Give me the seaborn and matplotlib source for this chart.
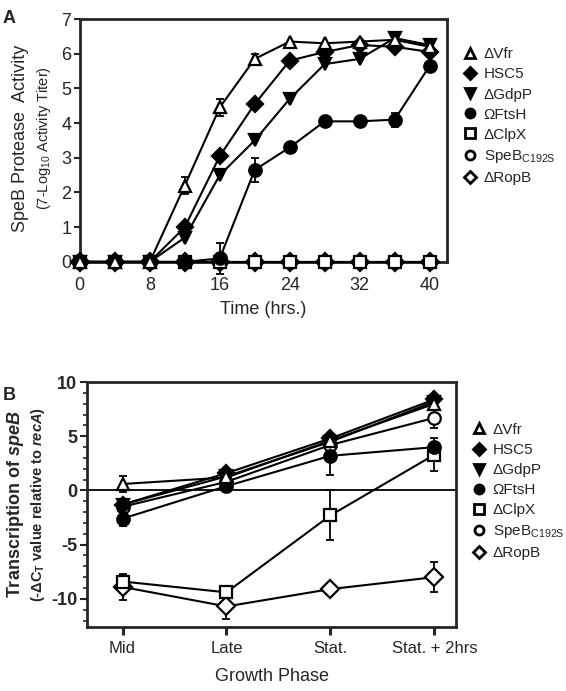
import numpy as np
import pandas as pd
import matplotlib
matplotlib.use("Agg")
import matplotlib.pyplot as plt
import seaborn as sns
from matplotlib.lines import Line2D
from matplotlib.ticker import MultipleLocator

sns.set_style("ticks")
plt.rcParams['font.family'] = ['Liberation Sans', 'DejaVu Sans']
plt.rcParams['mathtext.fontset'] = 'custom'
plt.rcParams['mathtext.rm'] = 'Liberation Sans'
plt.rcParams['mathtext.it'] = 'Liberation Sans:italic:bold'
plt.rcParams['axes.unicode_minus'] = False

strains = ['ΔVfr', 'HSC5', 'ΔGdpP', 'ΩFtsH', 'ΔClpX', 'SpeB$_{\\mathregular{C192S}}$', 'ΔRopB']
markers = ['^', 'D', 'v', 'o', 's', 'o', 'D']
filled = [False, True, True, True, False, False, False]
msizes = [9, 8, 9, 9, 9, 9, 9]

# panel A: SpeB protease activity over time
hours = [0, 4, 8, 12, 16, 20, 24, 28, 32, 36, 40]
act_vfr = [0, 0, 0, 2.2, 4.45, 5.85, 6.35, 6.3, 6.35, 6.4, 6.2]
act_hsc5 = [0, 0, 0, 1.0, 3.05, 4.55, 5.8, 6.05, 6.25, 6.2, 6.05]
act_gdpp = [0, 0, 0, 0.7, 2.5, 3.5, 4.7, 5.7, 5.85, 6.45, 6.25]
act_ftsh = [0, 0, 0, 0, 0.1, 2.65, 3.3, 4.05, 4.05, 4.1, 5.65]
act_clpx = [0] * 11
act_c192s = [0] * 11
act_ropb = [0] * 11
err_vfr = [0, 0, 0, 0.25, 0.25, 0.15, 0, 0, 0, 0, 0]
err_ftsh = [0, 0, 0, 0, 0.45, 0.35, 0, 0, 0, 0.2, 0]

# panel B: speB transcription by growth phase
phases = ['Mid', 'Late', 'Stat.', 'Stat. + 2hrs']
tx_vfr = [0.6, 1.2, 4.6, 8.0]
tx_hsc5 = [-1.3, 1.6, 4.8, 8.4]
tx_gdpp = [-1.3, 1.3, 4.5, 8.2]
tx_ftsh = [-2.6, 0.4, 3.2, 4.0]
tx_clpx = [-8.4, -9.4, -2.3, 3.3]
tx_c192s = [-1.5, 0.8, 4.2, 6.7]
tx_ropb = [-8.9, -10.7, -9.1, -8.0]
txerr_vfr = [0.7, 0.3, 0.5, 0.4]
txerr_ftsh = [0.7, 0.3, 1.8, 0.3]
txerr_clpx = [0.5, 0.5, 2.3, 1.5]
txerr_c192s = [0.4, 0.3, 0.4, 0.9]
txerr_ropb = [1.2, 1.2, 0.5, 1.4]
txerr_hsc5 = [0.4, 0.3, 0.4, 0.5]

act = [act_vfr, act_hsc5, act_gdpp, act_ftsh, act_clpx, act_c192s, act_ropb]
act_err = [err_vfr, [0] * 11, [0] * 11, err_ftsh, [0] * 11, [0] * 11, [0] * 11]
tx = [tx_vfr, tx_hsc5, tx_gdpp, tx_ftsh, tx_clpx, tx_c192s, tx_ropb]
tx_err = [txerr_vfr, txerr_hsc5, [0.3] * 4, txerr_ftsh, txerr_clpx, txerr_c192s, txerr_ropb]

fig = plt.figure(figsize=(5.66, 6.91), dpi=100)
axA = fig.add_axes([0.141, 0.621, 0.649, 0.3515])
axB = fig.add_axes([0.154, 0.0926, 0.652, 0.3544])

lw = 1.5

def draw(ax, x, ys, errs):
    for i in range(len(strains))[::-1]:
        df = pd.DataFrame({'x': x, 'y': ys[i]})
        ax.errorbar(x, ys[i], yerr=errs[i], fmt='none', ecolor='black',
                    elinewidth=1.3, capsize=3, capthick=1.3, zorder=2, clip_on=False)
        sns.lineplot(data=df, x='x', y='y', ax=ax, color='black', lw=lw,
                     marker=markers[i], markersize=msizes[i],
                     markerfacecolor='black' if filled[i] else 'white',
                     markeredgecolor='black', markeredgewidth=1.6,
                     clip_on=False, zorder=3, legend=False)

def legend(ax, y0):
    handles = [Line2D([], [], ls='none', marker=m, markersize=6.5,
                      markerfacecolor='black' if f else 'white',
                      markeredgecolor='black', markeredgewidth=2)
               for m, f in zip(markers, filled)]
    ax.legend(handles, strains, loc='upper left', bbox_to_anchor=(1.0, y0),
              frameon=False, fontsize=11, handletextpad=0.3, labelspacing=0.4,
              handlelength=1.2)

# panel A
draw(axA, hours, act, act_err)
axA.set_xlim(0, 42)
axA.set_ylim(0, 7)
axA.set_xticks([0, 8, 16, 24, 32, 40])
axA.set_yticks(range(8))
axA.tick_params(labelsize=13, width=1.5, length=4, direction='out', pad=2)
axA.tick_params(axis='x', pad=7)
for s in axA.spines.values():
    s.set_linewidth(2)
axA.set_xlabel('Time (hrs.)', fontsize=13, labelpad=5)
axA.set_ylabel('')
fig.text(0.037, 0.80, 'SpeB Protease  Activity', rotation=90, fontsize=13,
         ha='center', va='center')
fig.text(0.077, 0.80, '(7-Log$_{\\mathregular{10}}$ Activity Titer)', rotation=90,
         fontsize=10.5, ha='center', va='center')
legend(axA, 0.94)
fig.text(0.005, 0.985, 'A', fontsize=13, fontweight='bold', va='top')

# panel B
pos = list(range(len(phases)))
draw(axB, pos, tx, tx_err)
axB.axhline(0, color='black', lw=1.3, zorder=1)
axB.set_xlim(-0.34, 3.21)
axB.set_ylim(-12.6, 10)
axB.set_xticks(pos)
axB.set_xticklabels(phases)
axB.yaxis.set_major_locator(MultipleLocator(5))
axB.yaxis.set_minor_locator(MultipleLocator(1))
axB.tick_params(axis='y', labelsize=13, width=1.5, length=5, pad=2)
axB.tick_params(axis='y', which='minor', width=1.2, length=3)
axB.tick_params(axis='x', labelsize=12, width=2.2, length=6, pad=4)
for lab in axB.get_yticklabels():
    lab.set_fontweight('bold')
for s in axB.spines.values():
    s.set_linewidth(2)
axB.set_xlabel('Growth Phase', fontsize=13, labelpad=9)
axB.set_ylabel('')
fig.text(0.028, 0.27, 'Transcription of $\\mathit{speB}$', rotation=90,
         fontsize=13, fontweight='bold', ha='center', va='center')
fig.text(0.067, 0.27, '(-ΔC$_{\\mathregular{T}}$ value relative to $\\mathit{recA}$)',
         rotation=90, fontsize=10.5, fontweight='bold', ha='center', va='center')
legend(axB, 0.89)
fig.text(0.005, 0.44, 'B', fontsize=13, fontweight='bold', va='top')

fig.savefig('out.png', dpi=100)
